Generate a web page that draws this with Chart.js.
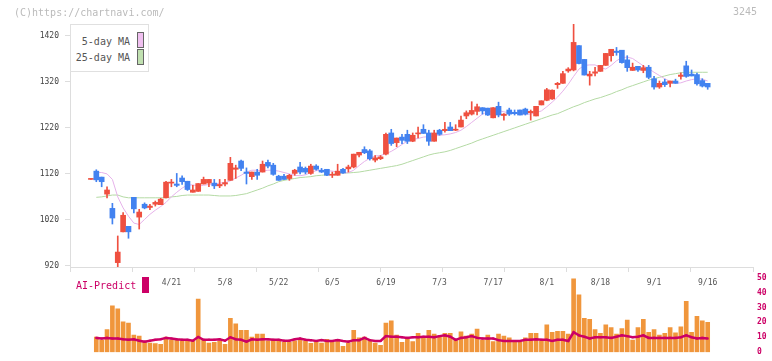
<!DOCTYPE html>
<html>
<head>
<meta charset="utf-8">
<script src="https://cdn.jsdelivr.net/npm/chart.js"></script>
<style>
  body { margin: 0; background: #fff; }
  #wrap { position: relative; width: 772px; height: 361px; font-family: "DejaVu Sans Mono", monospace; }
  #wrap canvas { position: absolute; left: 0; top: 0; }
  .txt { position: absolute; font-size: 10px; line-height: 12px; white-space: nowrap; }
  #copy { left: 14px; top: 7px; color: #bbb; }
  #code { right: 15px; top: 6px; color: #bbb; }
  #legend { position: absolute; left: 70px; top: 24px; width: 77px; height: 46px; border: 1px solid #e0e0e0; background: #fff; }
  #legend .lab { position: absolute; left: 0; width: 59px; text-align: right; font-size: 10px; line-height: 12px; color: #555; }
  #legend .sw { position: absolute; left: 66px; width: 5px; height: 14px; border: 1px solid #666; }
  #ai { left: 76px; top: 280px; color: #cc0066; }
  #aisw { position: absolute; left: 142px; top: 277px; width: 7px; height: 16px; background: #cc0066; }
</style>
</head>
<body>
<div id="wrap">
  <canvas id="main" width="772" height="361"></canvas>
  <canvas id="vol" width="772" height="361"></canvas>
  <div class="txt" id="copy">(C)https://chartnavi.com/</div>
  <div class="txt" id="code">3245</div>
  <div id="legend">
    <div class="lab" style="top:11px">5-day MA</div>
    <div class="sw" style="top:7px;background:#f0c0f0"></div>
    <div class="lab" style="top:27px">25-day MA</div>
    <div class="sw" style="top:24px;background:#c0e0b0"></div>
  </div>
  <div class="txt" id="ai">AI-Predict</div>
  <div id="aisw"></div>
</div>
<script>
// daily candles 3/31 .. 9/16 (index 0..115)
const openP = [
  1108,1126,1113,1076,1045,927,994,1006,1069,1026,
  1054,1047,1054,1053,1068,1100,1098,1111,1104,1080,
  1082,1098,1100,1100,1094,1098,1106,1130,1148,1124,
  1114,1124,1124,1145,1139,1115,1115,1110,1121,1135,
  1132,1121,1137,1128,1130,1117,1117,1130,1131,1135,
  1161,1173,1170,1150,1153,1163,1209,1188,1200,1206,
  1191,1207,1217,1209,1191,1215,1214,1222,1215,1222,
  1246,1250,1256,1264,1263,1242,1267,1247,1259,1254,
  1259,1261,1253,1246,1270,1280,1283,1314,1317,1344,
  1346,1399,1369,1333,1339,1343,1356,1377,1387,1389,
  1368,1345,1354,1345,1352,1327,1309,1320,1317,1322,
  1332,1355,1337,1336,1323,1317
];
const highP = [
  1109,1129,1113,1092,1056,985,1036,1006,1069,1043,
  1057,1054,1061,1067,1104,1108,1121,1116,1104,1095,
  1099,1113,1108,1108,1108,1108,1156,1139,1150,1133,
  1124,1130,1148,1150,1143,1117,1119,1119,1130,1145,
  1135,1141,1140,1132,1130,1124,1141,1132,1139,1163,
  1167,1179,1173,1160,1160,1209,1217,1198,1206,1215,
  1209,1222,1227,1215,1215,1217,1232,1232,1227,1246,
  1257,1277,1272,1264,1263,1264,1276,1251,1263,1259,
  1259,1263,1259,1267,1279,1306,1303,1319,1343,1351,
  1446,1399,1369,1343,1352,1356,1382,1391,1395,1389,
  1377,1361,1354,1356,1356,1332,1322,1326,1322,1326,
  1340,1365,1346,1339,1327,1317
];
const lowP = [
  1108,1103,1092,1068,1011,918,994,980,1035,1000,
  1044,1042,1050,1053,1068,1092,1092,1097,1084,1080,
  1082,1098,1092,1088,1090,1094,1106,1110,1127,1098,
  1108,1108,1124,1133,1117,1106,1108,1106,1117,1120,
  1120,1119,1128,1123,1116,1112,1117,1121,1124,1133,
  1157,1164,1150,1146,1151,1161,1182,1179,1186,1186,
  1190,1198,1208,1182,1191,1204,1211,1214,1214,1222,
  1240,1248,1248,1250,1247,1242,1244,1237,1247,1248,
  1248,1248,1237,1246,1270,1279,1282,1306,1317,1341,
  1344,1359,1335,1313,1333,1343,1356,1365,1378,1361,
  1343,1345,1343,1340,1327,1304,1306,1310,1309,1317,
  1326,1330,1333,1313,1309,1304
];
const closeP = [
  1109,1107,1103,1085,1024,950,1030,994,1044,1037,
  1046,1050,1058,1065,1102,1102,1095,1103,1086,1085,
  1099,1108,1108,1094,1097,1101,1143,1133,1132,1121,
  1124,1117,1141,1137,1119,1106,1108,1117,1128,1124,
  1124,1137,1130,1124,1117,1119,1126,1122,1135,1163,
  1167,1166,1153,1155,1157,1206,1186,1198,1193,1191,
  1204,1209,1208,1191,1209,1206,1217,1214,1217,1237,
  1253,1258,1266,1257,1248,1264,1248,1250,1250,1251,
  1248,1250,1256,1267,1279,1303,1302,1317,1338,1348,
  1406,1360,1335,1337,1342,1356,1382,1391,1384,1362,
  1351,1352,1346,1351,1330,1309,1317,1314,1322,1317,
  1335,1332,1333,1316,1311,1309
];
const ma5 = [
  null,1123,1123,1120,1108,1070,1046,1028,1013,1010,
  1021,1032,1041,1049,1058,1070,1080,1089,1096,1096,
  1094,1095,1097,1098,1100,1101,1105,1111,1117,1124,
  1128,1128,1126,1128,1128,1126,1123,1120,1117,1116,
  1118,1123,1127,1128,1127,1126,1124,1122,1123,1128,
  1138,1147,1154,1159,1160,1164,1169,1176,1184,1191,
  1195,1197,1200,1201,1202,1204,1205,1207,1210,1215,
  1223,1232,1241,1250,1255,1258,1258,1255,1253,1252,
  1251,1250,1250,1253,1257,1266,1276,1287,1300,1315,
  1332,1348,1356,1357,1357,1351,1348,1356,1366,1373,
  1374,1371,1363,1355,1349,1341,1334,1327,1321,1317,
  1318,1322,1325,1327,1326,1322
];
const ma25 = [
  null,1069,1070,1072,1074,1074,1070,1068,1068,1068,
  1068,1068,1068,1068,1068,1070,1071,1073,1074,1074,
  1074,1074,1074,1073,1072,1072,1072,1073,1075,1077,
  1081,1085,1089,1094,1098,1103,1106,1108,1110,1112,
  1113,1114,1116,1117,1118,1119,1121,1122,1122,1123,
  1124,1126,1128,1130,1132,1134,1136,1138,1141,1145,
  1149,1153,1157,1161,1164,1166,1168,1171,1175,1179,
  1183,1187,1192,1196,1200,1204,1208,1212,1216,1220,
  1224,1228,1232,1236,1240,1244,1248,1251,1256,1261,
  1266,1270,1275,1279,1283,1286,1290,1294,1299,1303,
  1308,1312,1316,1320,1324,1327,1330,1333,1336,1338,
  1340,1341,1341,1341,1341,1341
];
// volume (right axis, 0-50) and AI-Predict line
const volume = [
  null,10.2,8.1,15.2,31.2,29.1,20.3,19.6,11.5,10.9,
  6.7,6.2,5.8,5.2,10.2,8.1,8.7,7.7,7.7,7.7,
  35.6,8.1,6.2,6.7,7.7,5.2,22.8,19,14.6,14.6,
  10.2,12.1,12.1,7.7,8.7,8.7,6.7,6.7,7.7,8.5,
  7.7,6,6.7,6.2,8.7,6.7,8.7,3.9,6.2,14.6,
  9.6,10.2,8.1,6.2,4.6,19.6,21.1,11.5,6.7,8.7,
  7.1,12.7,9.6,14.6,12.1,10.9,12.7,12.7,8.1,13.6,
  10.9,12.1,15.5,8.1,11.5,7.1,12.1,10.9,9.6,6.7,
  6.7,9.6,12.7,12.7,7.5,18.4,13.4,14,14,12.1,
  49.2,38.5,22.8,22.1,15.2,12.7,18.4,16.5,12.1,15.9,
  21.5,8.1,16.5,22.1,13.4,15.2,11.5,12.7,16.5,13,
  17,34.1,13.4,24,21,20
];
const aiPredict = [
  null,9.6,9.2,9.6,9.2,9.2,8.7,8.3,8.7,7.7,
  7.1,7.7,8.3,8.7,9.6,9.2,8.7,8.3,8.3,7.7,
  10.2,8.3,8.3,8.3,8.7,7.7,10.0,8.7,8.3,7.1,
  8.7,8.3,8.7,8.7,8.3,8.3,7.7,7.7,8.7,9.2,
  8.3,8.1,7.5,8.1,7.5,7.5,8.1,7.5,7.1,8.1,
  8.1,9.6,8.1,7.5,7.5,10.8,10.4,10.4,10.0,9.6,
  10.0,10.0,10.4,10.4,10.0,10.8,11.3,10.4,8.3,9.6,
  10.0,10.8,9.6,9.2,9.2,9.2,8.1,7.5,7.5,7.5,
  7.5,8.3,8.3,8.7,8.3,8.3,7.5,8.3,8.3,7.5,
  13.4,11.3,10.4,9.2,10.0,10.0,10.0,9.6,10.4,11.3,
  10.8,10.0,10.4,11.3,9.6,9.6,9.6,9.6,9.6,9.6,
  10.0,11.3,10.0,9.2,9.6,9.2
];
const tickIdx = [15,25,35,45,55,65,75,85,95,105,115];
const tickLabels = ['4/21','5/8','5/22','6/5','6/19','7/3','7/17','8/1','8/18','9/1','9/16'];
const yTicks = [920,1020,1120,1220,1320,1420];
const volTicks = [0,10,20,30,40,50];

const MONO = '"DejaVu Sans Mono", monospace';
const RED = '#ef5040', BLUE = '#4282f0', CRIMSON = '#cc0066';
const xMin = -3.905, xMax = 123.45;
const idx = openP.map((_, i) => i);
const candleColor = ctx => closeP[ctx.dataIndex] >= openP[ctx.dataIndex] ? RED : BLUE;

new Chart(document.getElementById('main'), {
  type: 'bar',
  data: {
    datasets: [
      { label: 'body', data: idx.map(i => ({ x: i, y: [openP[i], closeP[i]] })),
        backgroundColor: candleColor, barThickness: 5, grouped: false, minBarLength: 1, order: 1 },
      { label: 'wick', data: idx.map(i => ({ x: i, y: [lowP[i], highP[i]] })),
        backgroundColor: candleColor, barThickness: 1, grouped: false, order: 2 },
      { type: 'line', label: '5-day MA', data: idx.map(i => ({ x: i, y: ma5[i] })),
        borderColor: '#e6b2ea', borderWidth: 1, pointRadius: 0, order: 3 },
      { type: 'line', label: '25-day MA', data: idx.map(i => ({ x: i, y: ma25[i] })),
        borderColor: '#b4daa4', borderWidth: 1, pointRadius: 0, order: 4 }
    ]
  },
  options: {
    responsive: false, animation: false, events: [],
    layout: { padding: { left: 0, right: 19, top: 24, bottom: 0 } },
    plugins: { legend: { display: false }, tooltip: { enabled: false } },
    scales: {
      x: {
        type: 'linear', position: 'bottom', min: xMin, max: xMax, offset: false, weight: 1,
        afterBuildTicks: s => { s.ticks = tickIdx.map(v => ({ value: v })); },
        afterFit: s => { s.height = 88; },
        grid: { display: false, drawTicks: false }, border: { display: false },
        ticks: { padding: 5, autoSkip: false, maxRotation: 0, color: '#555',
                 font: { family: MONO, size: 8 },
                 callback: v => tickLabels[tickIdx.indexOf(v)] }
      },
      x2: {
        type: 'linear', position: 'bottom', min: xMin, max: xMax, offset: false, weight: 0,
        afterBuildTicks: s => { s.ticks = Array.from({ length: 12 }, (_, k) => ({ value: xMin + k * (xMax - xMin) / 11 })); },
        afterFit: s => { s.height = 6; },
        grid: { drawOnChartArea: false, drawTicks: true, tickLength: 5, color: '#dddddd', offset: false },
        border: { display: true, color: '#dddddd' },
        ticks: { display: false }
      },
      y: {
        position: 'left', min: 917.5, max: 1446,
        afterBuildTicks: s => { s.ticks = yTicks.map(v => ({ value: v })); },
        afterFit: s => { s.width = 70; },
        grid: { drawOnChartArea: false, tickLength: 5, color: '#dddddd' },
        border: { color: '#dddddd' },
        ticks: { padding: 6, color: '#444', font: { family: MONO, size: 8 }, callback: v => String(v) }
      }
    }
  }
});

new Chart(document.getElementById('vol'), {
  type: 'bar',
  data: {
    datasets: [
      { type: 'line', label: 'AI-Predict', data: idx.map(i => ({ x: i, y: aiPredict[i] })),
        borderColor: CRIMSON, borderWidth: 2.5, pointRadius: 1.5, pointStyle: 'rect',
        pointBackgroundColor: CRIMSON, pointBorderWidth: 0, order: 0 },
      { label: 'Volume', data: idx.map(i => ({ x: i, y: volume[i] })),
        backgroundColor: '#f0963c', barThickness: 4, grouped: false, order: 1 }
    ]
  },
  options: {
    responsive: false, animation: false, events: [],
    layout: { padding: { left: 70, right: 0, top: 277.7, bottom: 3.7 } },
    plugins: { legend: { display: false }, tooltip: { enabled: false } },
    scales: {
      x: { type: 'linear', min: xMin, max: xMax, offset: false, display: false },
      y: {
        position: 'right', min: 0, max: 50,
        afterBuildTicks: s => { s.ticks = volTicks.map(v => ({ value: v })); },
        afterFit: s => { s.width = 19; },
        grid: { display: false, drawTicks: false }, border: { display: false },
        ticks: { padding: 4, color: CRIMSON, font: { family: MONO, size: 8, weight: 'bold' } }
      }
    }
  }
});
</script>
</body>
</html>
